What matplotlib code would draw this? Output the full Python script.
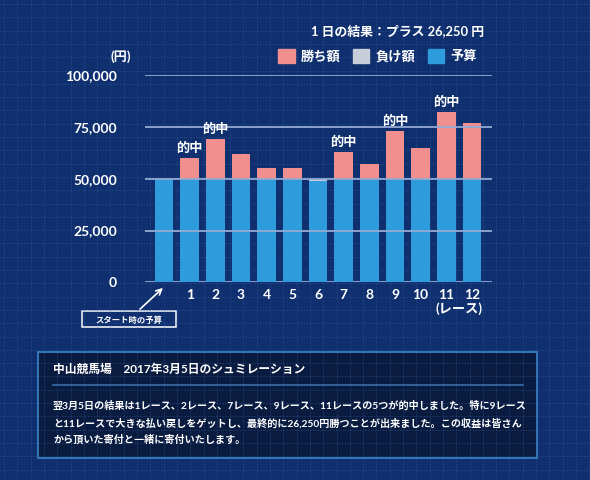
import numpy as np
import matplotlib
matplotlib.use("Agg")
import matplotlib.pyplot as plt
from matplotlib.patches import Rectangle

plt.rcParams['font.family'] = ['Lato', 'Noto Sans CJK JP', 'DejaVu Sans']
plt.rcParams['font.weight'] = 'bold'

# data
races = ["", "1", "2", "3", "4", "5", "6", "7", "8", "9", "10", "11", "12"]
budget = [50000, 50000, 50000, 50000, 50000, 50000, 48750, 50000, 50000, 50000, 50000, 50000, 50000]
win = [0, 10000, 19000, 12000, 5000, 5000, 0, 13000, 7000, 23000, 15000, 32000, 27000]
loss = [0, 0, 0, 0, 0, 0, 1250, 0, 0, 0, 0, 0, 0]
hits = [1, 2, 7, 9, 11]
yticks = [0, 25000, 50000, 75000, 100000]

BG = "#0f2f6e"
BLUE = "#2e9cdc"
PINK = "#f08f8e"
GREY = "#c8ced9"
LINE = "#93abd3"
W, H = 590, 480

fig = plt.figure(figsize=(5.9, 4.8), dpi=100, facecolor=BG)

# blueprint-ish background grid
bg = fig.add_axes([0, 0, 1, 1], zorder=-1)
bg.set_xlim(0, W)
bg.set_ylim(H, 0)
bg.axis("off")
bg.set_facecolor(BG)
for gx in np.arange(4, W, 13.3):
    bg.axvline(gx, color="#3d62a8", lw=0.6, alpha=0.45, ls=(0, (2, 1.5)))
for gy in np.arange(4, H, 13.3):
    bg.axhline(gy, color="#3d62a8", lw=0.6, alpha=0.45, ls=(0, (2, 1.5)))

# main chart
ax = fig.add_axes([145 / W, 1 - 282.3 / H, 347 / W, 207.2 / H])
ax.patch.set_alpha(0)
x = np.arange(len(races))
ax.bar(x, budget, width=0.72, color=BLUE, zorder=2)
ax.bar(x, loss, width=0.72, bottom=budget, color=GREY, zorder=2)
ax.bar(x, win, width=0.72, bottom=budget, color=PINK, zorder=2)
ax.set_xlim(-0.74, 12.78)
ax.set_ylim(0, 100000)
ax.set_yticks(yticks)
ax.set_yticklabels([f"{v:,}" for v in yticks])
ax.set_xticks(x)
ax.set_xticklabels(races)
for v in yticks:
    ax.axhline(v, color=LINE, lw=1.3, zorder=3 if v else 1)
for s in ax.spines.values():
    s.set_visible(False)
ax.tick_params(length=0, colors="white", labelsize=10)
ax.tick_params(axis="y", pad=20)
ax.tick_params(axis="x", pad=5)
for h in hits:
    top = budget[h] + win[h]
    ax.annotate("的中", (h, top), xytext=(0, 3), textcoords="offset points",
                ha="center", va="bottom", color="white", fontsize=9.5, fontweight="bold")

fig.text(121 / W, 1 - 57 / H, "(円)", color="white", fontsize=9.5, ha="center", va="center")
fig.text(459 / W, 1 - 309 / H, "(レース)", color="white", fontsize=9.5, ha="center", va="center")
fig.text(484 / W, 1 - 31 / H, "1 日の結果：プラス 26,250 円", color="white", fontsize=9.3,
         ha="right", va="center", fontweight="bold")

handles = [Rectangle((0, 0), 1, 1, color=c) for c in (PINK, GREY, BLUE)]
fig.legend(handles, ["勝ち額", "負け額", "予算"], loc="center right",
           bbox_to_anchor=(489 / W, 1 - 56 / H), ncol=3, frameon=False,
           handlelength=1.25, handleheight=1.25, handletextpad=0.5, columnspacing=0.9,
           labelcolor="white", prop={"size": 9.5, "weight": "bold"})

# start-budget callout
bg.annotate("", xy=(165, 286), xytext=(138, 311),
            arrowprops=dict(arrowstyle="->", color="white", lw=1.2))
bg.add_patch(Rectangle((82, 311), 94, 16, fill=False, ec="white", lw=1.1))
bg.text(129, 319.5, "スタート時の予算", color="white", fontsize=6, ha="center", va="center",
        fontweight="bold")

# description panel
bg.add_patch(Rectangle((38, 351.5), 499, 106, fc="#0a1b40", ec="#3a86c8", lw=1.2, zorder=1))
bg.plot([53, 523], [385, 385], color="#3a6ea8", lw=1.2, zorder=2)
bg.text(53, 369, "中山競馬場　2017年3月5日のシュミレーション", color="white", fontsize=8.5,
        ha="left", va="center", fontweight="bold", zorder=3)
body = ["翌3月5日の結果は1レース、2レース、7レース、9レース、11レースの5つが的中しました。特に9レース",
        "と11レースで大きな払い戻しをゲットし、最終的に26,250円勝つことが出来ました。この収益は皆さん",
        "から頂いた寄付と一緒に寄付いたします。"]
for i, line in enumerate(body):
    bg.text(53, 406 + i * 17, line, color="white", fontsize=7.25, ha="left", va="center",
            fontweight="bold", zorder=3)

fig.savefig("out.png", dpi=100, facecolor=BG)
